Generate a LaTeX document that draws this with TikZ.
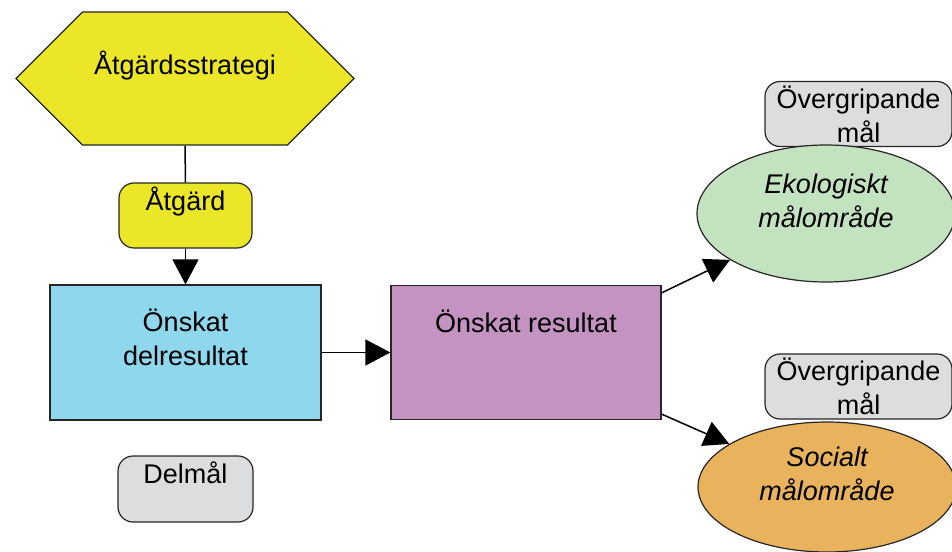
\documentclass[tikz,border=0pt]{standalone}
\usepackage{fontspec}
\setmainfont{Liberation Sans}
\usetikzlibrary{shapes.symbols,shapes.geometric,arrows.meta}
\definecolor{c_yellow}{RGB}{236,230,40}
\definecolor{c_blue}{RGB}{143,215,237}
\definecolor{c_purple}{RGB}{196,147,194}
\definecolor{c_gray}{RGB}{220,221,223}
\definecolor{c_green}{RGB}{195,226,191}
\definecolor{c_orange}{RGB}{232,179,92}
\begin{document}
\begin{tikzpicture}[x=1pt, y=-1pt, font=\fontsize{27}{34}\selectfont,
		box/.style={draw=black!85, line width=1.2pt, inner sep=2pt, align=center},
		rbox/.style={box, rounded corners=15pt},
		goal/.style={box, ellipse, minimum width=258pt, font=\fontsize{27}{34}\selectfont\itshape},
		lift/.style={text height=20pt, text depth=#1},
		l_1/.style={line width=1.5pt},
		l_arr/.style={l_1, -{Triangle[length=25pt,width=26pt]}}]
	\useasboundingbox (0,0) rectangle (952,551);
	\clip (0,0) rectangle (952,551);
	% strategy and action
	\node[box, signal, signal to=west and east, signal pointer angle=90, fill=c_yellow,
		minimum width=338pt, minimum height=133pt, lift=27.6pt] (strategi) at (185,78.5) {Åtgärdsstrategi};
	\node[rbox, fill=c_yellow, minimum width=133pt, minimum height=65pt, lift=29.6pt] (atgard) at (185.5,215.5) {Åtgärd};
	% results
	\node[box, fill=c_blue, minimum width=271pt, minimum height=135pt, lift=20pt, text height=45pt] (delresultat) at (185.5,352.5) {Önskat\\delresultat};
	\node[box, fill=c_purple, minimum width=270pt, minimum height=134pt, lift=60.6pt] (resultat) at (526,352.5) {Önskat resultat};
	\node[rbox, fill=c_gray, minimum width=135pt, minimum height=66pt, lift=30.6pt] (delmal) at (185.5,489) {Delmål};
	% goal areas
	\foreach \y/\n in {114/over_eko, 386.5/over_soc} {
		\node[rbox, fill=c_gray, minimum width=187pt, minimum height=65pt] (\n) at (858.5,\y) {Övergripande\\mål};
	};
	\node[goal, fill=c_green, minimum height=137pt, lift=20pt, text height=47pt] (ekologi) at (826,213.5) {Ekologiskt\\målområde};
	\node[goal, fill=c_orange, minimum height=130pt, lift=20pt, text height=46pt] (socialt) at (827,487) {Socialt\\målområde};
	% connectors
	\draw[l_1] (strategi.south) -- (atgard.north);
	\draw[l_arr] (atgard.south) -- (delresultat.north);
	\draw[l_arr] (delresultat.east) -- (resultat.west);
	\draw[l_arr] ([yshift=-8pt]resultat.north east) -- (ekologi);
	\draw[l_arr] ([yshift=6pt]resultat.south east) -- (socialt);
\end{tikzpicture}
\end{document}
